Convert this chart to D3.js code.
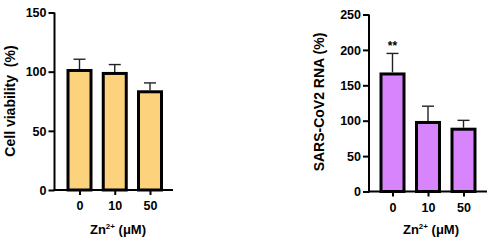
<!DOCTYPE html>
<html><head><meta charset="utf-8">
<script src="https://cdn.jsdelivr.net/npm/d3@7/dist/d3.min.js"></script>
<style>
html,body{margin:0;padding:0;background:#fff;}
svg text{font-family:"Liberation Sans",Arial,sans-serif;font-weight:bold;fill:#000;}
</style></head>
<body>
<svg id="c" width="490" height="242"></svg>
<script>
const categories = ["0", "10", "50"];
const viabilityMean = [101, 98.5, 83];
const viabilitySD = [9.5, 7.5, 7.5];
const viabilityTicks = [0, 50, 100, 150];
const rnaMean = [166, 97.5, 88];
const rnaSD = [29, 23, 12.5];
const rnaTicks = [0, 50, 100, 150, 200, 250];
const rnaSignif = ["**", "", ""];

const svg = d3.select("#c");

function panel(o) {
  const g = svg.append("g");
  const y = d3.scaleLinear().domain([0, o.max]).range([o.y0, o.y1]);
  const x = d3.scalePoint().domain(categories).range([o.c0, o.c1]);
  const bw = 23;

  // bars
  g.selectAll("rect.bar").data(o.mean).join("rect")
    .attr("x", (d, i) => x(categories[i]) - bw / 2)
    .attr("y", d => y(d))
    .attr("width", bw)
    .attr("height", d => y(0) - y(d))
    .attr("fill", o.color).attr("stroke", "#000").attr("stroke-width", 3);

  // error bars
  const eb = g.selectAll("g.eb").data(o.mean).join("g");
  eb.append("line")
    .attr("x1", (d, i) => x(categories[i])).attr("x2", (d, i) => x(categories[i]))
    .attr("y1", d => y(d) - 1.5).attr("y2", (d, i) => y(d + o.sd[i]))
    .attr("stroke", "#222").attr("stroke-width", 1.4);
  eb.append("line")
    .attr("x1", (d, i) => x(categories[i]) - 6).attr("x2", (d, i) => x(categories[i]) + 6)
    .attr("y1", (d, i) => y(d + o.sd[i])).attr("y2", (d, i) => y(d + o.sd[i]))
    .attr("stroke", "#222").attr("stroke-width", 1.4);

  if (o.signif) {
    g.selectAll("text.sig").data(o.mean).join("text")
      .attr("x", (d, i) => x(categories[i]))
      .attr("y", (d, i) => y(d + o.sd[i]) - 3)
      .attr("text-anchor", "middle").attr("font-size", 12)
      .text((d, i) => o.signif[i]);
  }

  // y axis
  const ya = g.append("g").attr("transform", `translate(${o.ax},0)`)
    .call(d3.axisLeft(y).tickValues(o.ticks).tickSize(6).tickPadding(2).tickFormat(d3.format("d")));
  ya.select(".domain").attr("stroke", "#000").attr("stroke-width", 2)
    .attr("d", `M0,${o.y1}V${o.y0 + 1}`);
  ya.selectAll(".tick line").attr("stroke", "#000").attr("stroke-width", 2);
  ya.selectAll(".tick text").attr("font-size", 12.5).attr("dy", "0.34em")
    .style("font-family", '"Liberation Sans",Arial,sans-serif').style("font-weight", "bold");

  // x axis
  const xa = g.append("g").attr("transform", `translate(0,${o.y0})`)
    .call(d3.axisBottom(x).tickSize(5).tickPadding(6.5));
  xa.select(".domain").attr("stroke", "#000").attr("stroke-width", 2)
    .attr("d", `M${o.ax - 1},0H${o.xEnd}`);
  xa.selectAll(".tick line").attr("stroke", "#000").attr("stroke-width", 2);
  xa.selectAll(".tick text").attr("font-size", 12.5)
    .style("font-family", '"Liberation Sans",Arial,sans-serif').style("font-weight", "bold");

  // x title
  const t = g.append("text").attr("x", o.xtX).attr("y", 233.5)
    .attr("text-anchor", "middle").attr("font-size", 13);
  t.append("tspan").text("Zn");
  t.append("tspan").attr("font-size", 8).attr("dy", -5).text("2+");
  t.append("tspan").attr("dy", 5).text(" (\u03BCM)");

  // y title
  g.append("text")
    .attr("transform", `translate(${o.ytX},${o.ytY}) rotate(-90)`)
    .attr("text-anchor", "middle").attr("font-size", 14)
    .style("white-space", "pre")
    .text(o.ylabel);
}

panel({ max: 150, y0: 190, y1: 12.5, c0: 79.5, c1: 150, ax: 54.5, xEnd: 173,
  mean: viabilityMean, sd: viabilitySD, ticks: viabilityTicks, color: "#FDD27C",
  xtX: 118, ytX: 15, ytY: 101, ylabel: "Cell viability  (%)" });

panel({ max: 250, y0: 191.5, y1: 14.5, c0: 392.5, c1: 463.5, ax: 369, xEnd: 487,
  mean: rnaMean, sd: rnaSD, ticks: rnaTicks, color: "#D884FC", signif: rnaSignif,
  xtX: 431, ytX: 324, ytY: 102, ylabel: "SARS-CoV2 RNA (%)" });
</script>
</body></html>
